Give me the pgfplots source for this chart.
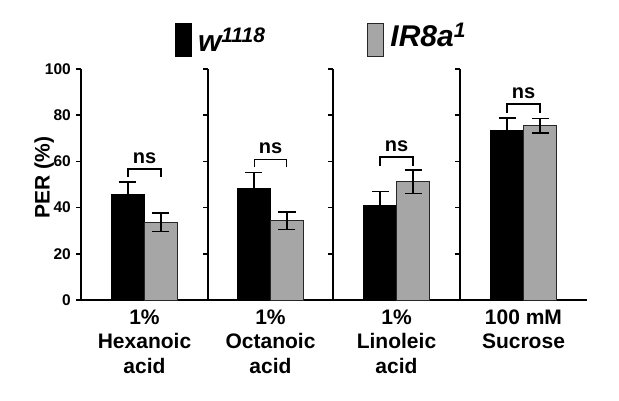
\documentclass[border=0pt]{standalone}
\usepackage{fontspec}
\setmainfont{Liberation Sans}
\usepackage{pgfplots}
\pgfplotsset{compat=1.18}
\definecolor{bargray}{RGB}{166,166,166}
\pgfplotsset{
 panel/.style={
  scale only axis, height=231pt, ymin=0, ymax=100,
  xmin=-1.9, xmax=1.9,
  axis x line*=bottom, axis y line*=left,
  axis line style={line width=1.5pt, -},
  ytick={0,20,...,100},
  tick align=outside, major tick length=5pt,
  y tick style={line width=1.5pt, black},
  x tick style={draw=none},
  xtick={0},
  ybar=0pt, bar width=33pt,
  anchor=south west,
  xticklabel style={font=\fontsize{21}{24.5}\selectfont\bfseries, align=center, yshift=-1pt},
  clip=false,
 },
 wt/.style={fill=black, draw=black, line width=1pt,
  error bars/.cd, y dir=both, y explicit,
  error bar style={line width=1.5pt, black},
  error mark options={rotate=90, mark size=8.5pt, line width=1.5pt, black}},
 ir/.style={fill=bargray, draw=black!85, line width=1pt,
  error bars/.cd, y dir=both, y explicit,
  error bar style={line width=1.5pt, black},
  error mark options={rotate=90, mark size=8.5pt, line width=1.5pt, black}},
}
\tikzset{
 bracket/.style={line width=1.5pt, black},
 nslab/.style={font=\fontsize{20}{22}\selectfont\bfseries, anchor=base, inner sep=0pt, yshift=6pt},
}
\begin{document}
\begin{tikzpicture}
\useasboundingbox (0,0) rectangle (619pt,400pt);
% Panel 1
\begin{axis}[panel, at={(81pt,100pt)}, width=127pt,
  xticklabels={{1\%\\Hexanoic\\acid}},
  yticklabels={0,20,40,60,80,100},
  yticklabel style={font=\fontsize{15.5}{18}\selectfont\bfseries, anchor=east, inner sep=0pt, xshift=-5pt},
  ylabel={PER (\%)},
  every axis y label/.style={at={(axis description cs:-0.29,0.53)}, rotate=90, anchor=center,
    font=\fontsize{21}{24}\selectfont\bfseries}]
\addplot[wt] coordinates {(0,45.5) +- (0,5.5)};
\addplot[ir] coordinates {(0,33.7) +- (0,4.0)};
\draw[bracket] (axis cs:-0.49,53.2) |- (axis cs:0.49,56.7) -- (axis cs:0.49,53.2);
\node[nslab] at (axis cs:0,56.7) {ns};
\end{axis}
% Panel 2
\begin{axis}[panel, at={(208pt,100pt)}, width=125pt,
  yticklabels={},
  xticklabels={{1\%\\Octanoic\\acid}},
  legend columns=2,
  legend style={draw=none, fill=none, inner sep=0pt, outer sep=0pt,
    at={(axis description cs:-0.264,1)}, anchor=south west, yshift=12pt,
    font=\fontsize{30}{32}\selectfont\bfseries\itshape,
    nodes={inner sep=0pt, anchor=base west},
    /tikz/every odd column/.append style={column sep=6pt},
    /tikz/every even column/.append style={column sep=102pt}},
  legend image code/.code={\draw[#1, line width=1pt] (0pt,-5pt) rectangle (16pt,28pt);}]
\addplot[wt] coordinates {(0,48.3) +- (0,7.0)};
\addlegendentry{w\textsuperscript{1118}}
\addplot[ir] coordinates {(0,34.3) +- (0,3.8)};
\addlegendentry{\raisebox{5pt}{IR8a\textsuperscript{1}}}
\draw[bracket] (axis cs:-0.49,57.7) |- (axis cs:0.49,60.9) -- (axis cs:0.49,57.7);
\node[nslab] at (axis cs:0,60.9) {ns};
\end{axis}
% Panel 3
\begin{axis}[panel, at={(333pt,100pt)}, width=127pt,
  yticklabels={},
  xticklabels={{1\%\\Linoleic\\acid}}]
\addplot[wt] coordinates {(0,40.7) +- (0,6.3)};
\addplot[ir] coordinates {(0,51.2) +- (0,5.0)};
\draw[bracket] (axis cs:-0.49,58.1) |- (axis cs:0.49,61.8) -- (axis cs:0.49,58.1);
\node[nslab] at (axis cs:0,61.8) {ns};
\end{axis}
% Panel 4
\begin{axis}[panel, at={(460pt,100pt)}, width=127pt,
  yticklabels={},
  xticklabels={{100 mM\\Sucrose\\\strut}}]
\addplot[wt] coordinates {(0,73.2) +- (0,5.5)};
\addplot[ir] coordinates {(0,75.4) +- (0,3.1)};
\draw[bracket] (axis cs:-0.49,81.0) |- (axis cs:0.49,84.8) -- (axis cs:0.49,81.0);
\node[nslab] at (axis cs:0,84.8) {ns};
\end{axis}
\end{tikzpicture}
\end{document}
